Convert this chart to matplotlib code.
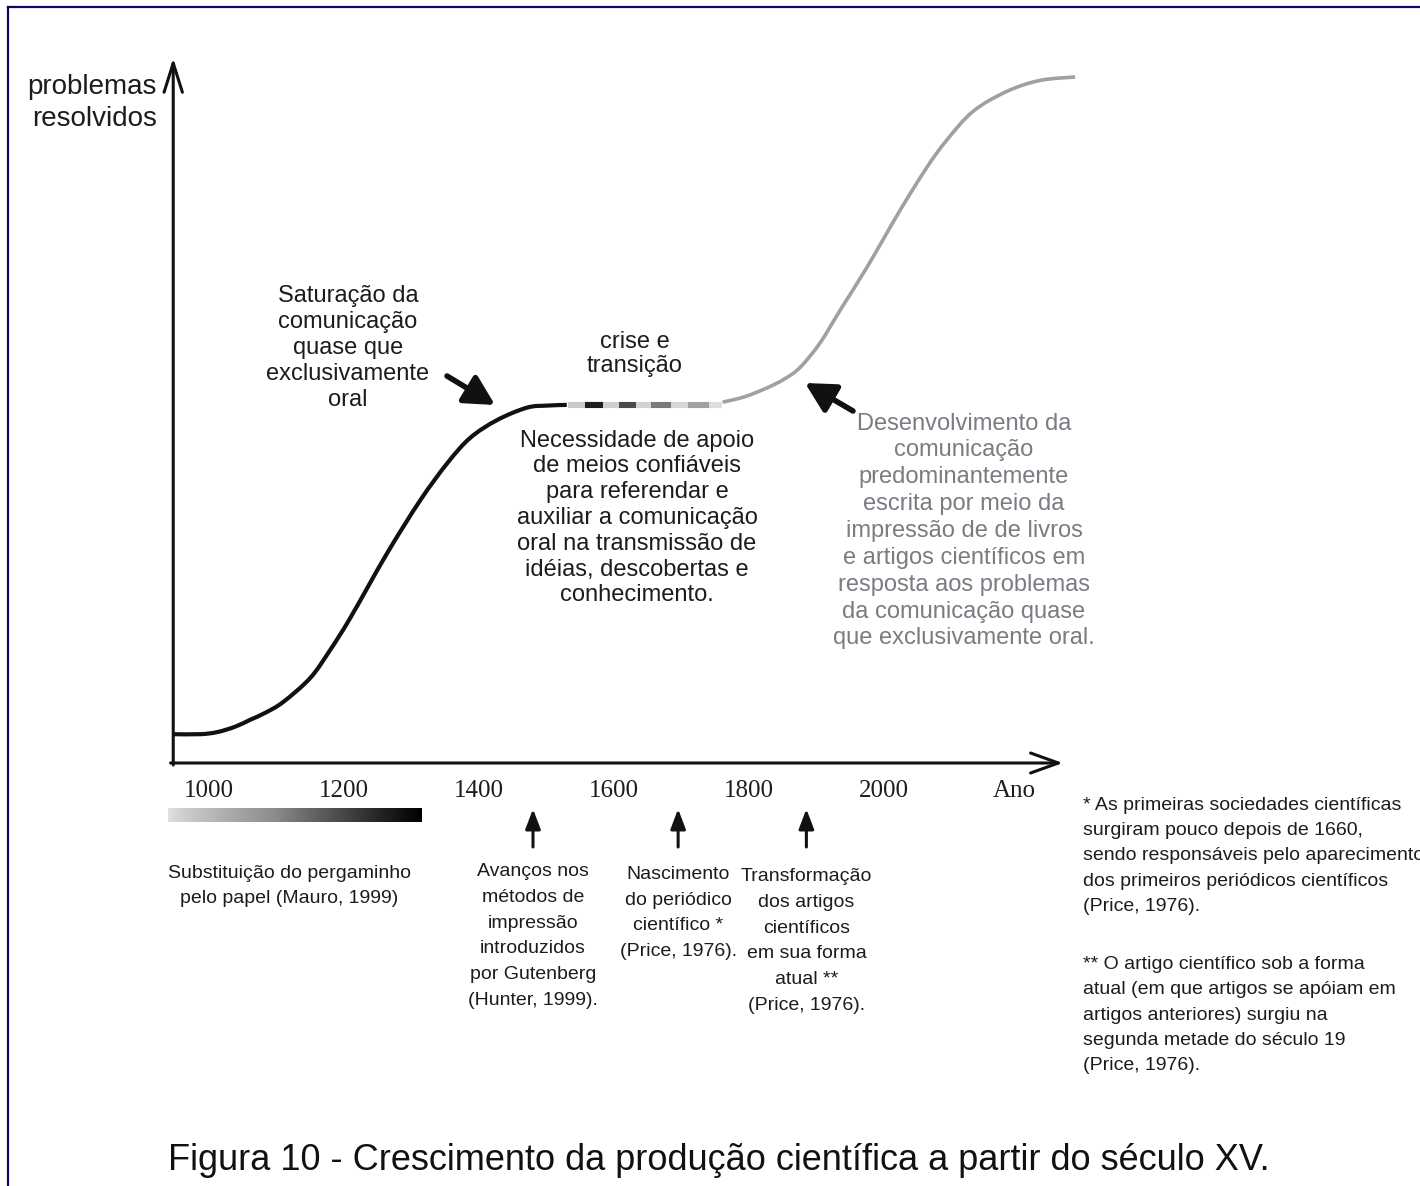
import numpy as np
import matplotlib
matplotlib.use('Agg')
import matplotlib.pyplot as plt
from matplotlib import font_manager
from matplotlib.colors import LinearSegmentedColormap
from matplotlib.lines import Line2D
from matplotlib.path import Path
from matplotlib.patches import PathPatch
from matplotlib.transforms import blended_transform_factory

# curve: year vs "problemas resolvidos" (arbitrary units)
oral_years = [947, 987, 1012, 1039, 1061, 1083, 1110, 1150, 1179, 1209, 1264,
              1313, 1353, 1387, 1427, 1471, 1501, 1530]
oral_level = [4.2, 4.2, 4.5, 5.3, 6.3, 7.3, 8.9, 12.4, 16.4, 21.1, 30.6,
              38.3, 43.7, 47.4, 50.0, 51.8, 52.1, 52.2]

# "crise e transição": broken segment on the plateau
transition_years = [1532, 1557, 1584, 1608, 1632, 1655, 1685, 1709, 1740, 1760]
transition_shades = ['#c9c9c9', '#1e1e1e', '#cfcfcf', '#4a4a4a', '#d2d2d2',
                     '#7a7a7a', '#d6d6d6', '#a0a0a0', '#dedede']

written_years = [1761, 1794, 1827, 1853, 1876, 1905, 1935, 1975, 2024, 2064,
                 2093, 2132, 2182, 2231, 2283]
written_level = [52.6, 53.4, 54.7, 56.0, 57.7, 61.2, 66.0, 72.3, 80.6, 86.9,
                 90.8, 95.0, 97.9, 99.5, 100.0]

tick_years = [1000, 1200, 1400, 1600, 1800, 2000]
paper_years = [939, 1314]
event_years = [1480, 1695, 1885]
event_labels = [
    'Avanços nos\nmétodos de\nimpressão\nintroduzidos\npor Gutenberg\n(Hunter, 1999).',
    'Nascimento\ndo periódico\ncientífico *\n(Price, 1976).',
    'Transformação\ndos artigos\ncientíficos\nem sua forma\natual **\n(Price, 1976).',
]
event_label_y = [936, 913, 941]

W, H = 1420, 1186
TXT = '#1c1c1c'
GRAY_TXT = '#7e7982'


def P(x, y):
    # pixel position in the 1420x1186 layout -> axes fraction
    return (x / W, 1 - y / H)


def lvl(ypx):
    return (763 - ypx) / 6.86


def ls(spacing_px, size_pt):
    em = size_pt * 100 / 72
    return (spacing_px / em - 0.21) / 0.73


def smooth_path(xs, ys):
    # smooth bezier through the read points (catmull-rom)
    pts = np.column_stack([xs, ys]).astype(float)
    verts = [pts[0]]
    codes = [Path.MOVETO]
    for i in range(len(pts) - 1):
        p0 = pts[i - 1] if i > 0 else pts[i]
        p1, p2 = pts[i], pts[i + 1]
        p3 = pts[i + 2] if i + 2 < len(pts) else pts[i + 1]
        verts += [p1 + (p2 - p0) / 6, p2 - (p3 - p1) / 6, p2]
        codes += [Path.CURVE4] * 3
    return Path(verts, codes)


names = {f.name for f in font_manager.fontManager.ttflist}
NARROW = 'Liberation Sans Narrow' in names
sans = 'Liberation Sans'
sans_n = 'Liberation Sans Narrow' if NARROW else 'Liberation Sans'
k = 1 / 0.82 if NARROW else 1.0
small = 14 * k
cap_size = 26 * k

fig = plt.figure(figsize=(14.2, 11.86), dpi=100)
ax = fig.add_axes([0, 0, 1, 1])
ax.axis('off')

# page border (top and left only, rest is cropped)
fig.add_artist(Line2D([8 / W, 1], [1 - 7 / H, 1 - 7 / H], transform=fig.transFigure,
                      color='#0b0b64', lw=1.6))
fig.add_artist(Line2D([8 / W, 8 / W], [0, 1 - 7 / H], transform=fig.transFigure,
                      color='#0b0b64', lw=1.6))

# curves
plateau = oral_level[-1]
ax.add_patch(PathPatch(smooth_path(oral_years, oral_level), fill=False,
                       edgecolor='#111111', lw=3, capstyle='butt', joinstyle='round'))
for i, shade in enumerate(transition_shades):
    ax.plot(transition_years[i:i + 2], [plateau, plateau], color=shade, lw=4.4,
            solid_capstyle='butt')
ax.add_patch(PathPatch(smooth_path(written_years, written_level), fill=False,
                       edgecolor='#a39ea5', lw=2.6, capstyle='butt', joinstyle='round'))

# axes with open arrow heads
axis_year = oral_years[0]
ax.annotate('', xy=(axis_year, lvl(58)), xytext=(axis_year, lvl(765)),
            arrowprops=dict(arrowstyle='->,head_length=1.05,head_width=0.33',
                            lw=2.2, color='#111111', shrinkA=0, shrinkB=0,
                            mutation_scale=20))
ax.annotate('', xy=(2265, 0), xytext=(axis_year - 4, 0),
            arrowprops=dict(arrowstyle='->,head_length=1.0,head_width=0.36',
                            lw=2.2, color='#111111', shrinkA=0, shrinkB=0,
                            mutation_scale=20))

for yr in tick_years:
    ax.text(yr, lvl(797), str(yr), ha='center', va='baseline',
            family='Liberation Serif', fontsize=18, color=TXT)
ax.text(*P(1014, 797), 'Ano', ha='center', va='baseline',
        family='Liberation Serif', fontsize=18, color=TXT, transform=ax.transAxes)

ax.text(*P(157, 103), 'problemas\nresolvidos', ha='right', va='center',
        fontsize=20, linespacing=ls(32, 20), family=sans, color=TXT,
        transform=ax.transAxes)

# paper band
cm = LinearSegmentedColormap.from_list('paper', ['#e4dfe4', '#8e8a8e', '#000000'])
ax.imshow(np.linspace(0, 1, 256)[None, :] ** 0.8,
          extent=[paper_years[0], paper_years[1], lvl(822), lvl(808)],
          aspect='auto', cmap=cm, interpolation='bilinear')
ax.text(*P(289, 886), 'Substituição do pergaminho\npelo papel (Mauro, 1999)',
        ha='center', va='center', fontsize=small, linespacing=ls(27, small),
        family=sans_n, color=TXT, transform=ax.transAxes)

# events on the time line
blend = blended_transform_factory(ax.transData, ax.transAxes)
for yr, lab, ly in zip(event_years, event_labels, event_label_y):
    ax.annotate('', xy=(yr, 1 - 809 / H), xytext=(yr, 1 - 847 / H),
                xycoords=blend, textcoords=blend,
                arrowprops=dict(arrowstyle='-|>,head_length=0.5,head_width=0.19',
                                lw=2.2, color='#111111', shrinkA=0, shrinkB=0,
                                mutation_scale=24))
    ax.text(yr, 1 - ly / H, lab, ha='center', va='center', fontsize=small,
            linespacing=ls(27.7, small), family=sans_n, color=TXT, transform=blend)

# annotations on the curve
ax.text(*P(348, 348), 'Saturação da\ncomunicação\nquase que\nexclusivamente\noral',
        ha='center', va='center', fontsize=17, linespacing=ls(26, 17),
        family=sans, color=TXT, transform=ax.transAxes)
ax.annotate('', xy=P(495, 405), xytext=P(447, 376), xycoords='axes fraction',
            arrowprops=dict(arrowstyle='-|>,head_length=0.6,head_width=0.32',
                            lw=4, color='#111111', shrinkA=0, shrinkB=0,
                            mutation_scale=30))
ax.text(*P(635, 354), 'crise e\ntransição', ha='center', va='center',
        fontsize=17, linespacing=ls(25, 17), family=sans, color=TXT,
        transform=ax.transAxes)
ax.text(*P(637, 518),
        'Necessidade de apoio\nde meios confiáveis\npara referendar e\n'
        'auxiliar a comunicação\noral na transmissão de\nidéias, descobertas e\n'
        'conhecimento.',
        ha='center', va='center', fontsize=17, linespacing=ls(26, 17),
        family=sans, color=TXT, transform=ax.transAxes)
ax.annotate('', xy=P(805, 383), xytext=P(853, 411), xycoords='axes fraction',
            arrowprops=dict(arrowstyle='-|>,head_length=0.6,head_width=0.32',
                            lw=4, color='#111111', shrinkA=0, shrinkB=0,
                            mutation_scale=30))
ax.text(*P(964, 531),
        'Desenvolvimento da\ncomunicação\npredominantemente\nescrita por meio da\n'
        'impressão de de livros\ne artigos científicos em\nresposta aos problemas\n'
        'da comunicação quase\nque exclusivamente oral.',
        ha='center', va='center', fontsize=17, linespacing=ls(27.1, 17),
        family=sans, color=GRAY_TXT, transform=ax.transAxes)

# footnotes (the first one runs off the right edge, as in the original crop)
ax.text(*P(1083, 856),
        '* As primeiras sociedades científicas\nsurgiram pouco depois de 1660,\n'
        'sendo responsáveis pelo aparecimento\ndos primeiros periódicos científicos\n'
        '(Price, 1976).',
        ha='left', va='center', fontsize=small, linespacing=ls(27.5, small),
        family=sans_n, color=TXT, transform=ax.transAxes)
ax.text(*P(1083, 1015),
        '** O artigo científico sob a forma\natual (em que artigos se apóiam em\n'
        'artigos anteriores) surgiu na\nsegunda metade do século 19\n(Price, 1976).',
        ha='left', va='center', fontsize=small, linespacing=ls(27.5, small),
        family=sans_n, color=TXT, transform=ax.transAxes)

ax.text(*P(168, 1160),
        'Figura 10 - Crescimento da produção científica a partir do século XV.',
        ha='left', va='center', fontsize=cap_size, family=sans_n, color='#111111',
        transform=ax.transAxes)

ax.set_xlim(690.37, 2794.07)
ax.set_ylim(lvl(1186), lvl(0))

fig.savefig('out.png', dpi=100)
